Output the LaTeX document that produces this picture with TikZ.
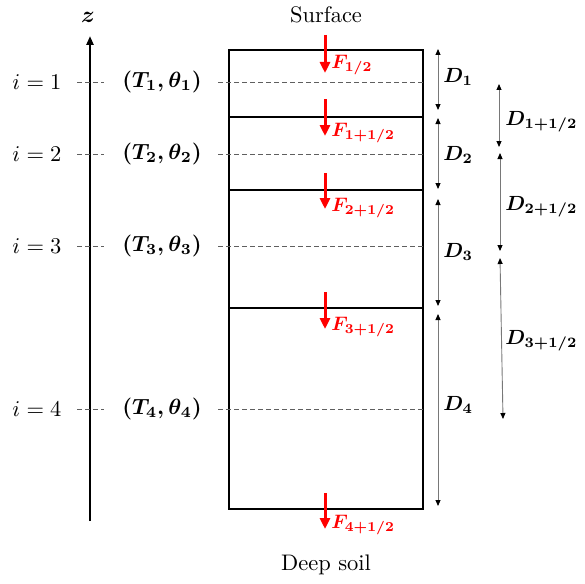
\documentclass[tikz,border=0pt]{standalone}
\usepackage{amsmath}
\usetikzlibrary{arrows.meta}
\definecolor{fred}{RGB}{255,0,0}
\definecolor{guidegray}{RGB}{95,95,95}
\definecolor{dimgray}{RGB}{120,120,120}
\begin{document}
\begin{tikzpicture}[x=1pt,y=-1pt,
  lbl/.style={font=\normalsize, scale=2.25, inner sep=0pt},
  blbl/.style={font=\normalsize\boldmath, scale=2.2, inner sep=0pt},
  flbl/.style={font=\normalsize\boldmath, scale=1.95, text=fred, inner sep=0pt, anchor=west},
  dlbl/.style={font=\normalsize\boldmath, scale=2.05, inner sep=0pt, anchor=west},
  wall/.style={line width=1.5pt},
  guide/.style={dash pattern=on 5pt off 3pt, line width=0.8pt, draw=guidegray},
  flux/.style={draw=fred, line width=3pt, -{Triangle[length=11pt,width=10pt]}},
  dimarr/.style={line width=0.9pt, draw=dimgray, {Triangle[length=6pt,width=5pt,color=black]}-{Triangle[length=6pt,width=5pt,color=black]}}
]
\useasboundingbox (0,0) rectangle (585,583);
% soil column
\coordinate (tl) at (229,50);
\coordinate (br) at (423,509);
\draw[wall] (tl) rectangle (br);
\foreach \y/\n in {117/a,190/b,308/c}{
  \coordinate (\n L) at (229,\y);
  \coordinate (\n R) at (423,\y);
  \draw[wall] (\n L) -- (\n R);
}
% z axis
\coordinate (z0) at (90,521);
\coordinate (z1) at (90,36);
\draw[line width=2.4pt, -{Triangle[length=9pt,width=7pt]}] (z0) -- (z1);
\node[font=\normalsize\boldmath, scale=2.3, inner sep=0pt] (zl) at (88,17) {$z$};
% nodes
\foreach \k/\y in {1/82,2/154,3/246,4/409}{
  \node[lbl] (i\k) at (37,\y) {$i=\k$};
  \node[blbl] (t\k) at (162,\y) {$(T_{\k},\theta_{\k})$};
  \coordinate (l\k a) at (77,\y);
  \coordinate (l\k b) at (104,\y);
  \coordinate (r\k a) at (218,\y);
  \coordinate (r\k b) at (423,\y);
  \draw[guide] (l\k a) -- (l\k b);
  \draw[guide] (r\k a) -- (r\k b);
}
\node[lbl] (surf) at (326,15) {Surface};
\node[lbl] (deep) at (326,565) {Deep soil};
% fluxes
\foreach \n/\ya/\yb/\yl/\t in {f0/35/73/65/{1/2},f1/99/136/133/{1+1/2},f2/173/209/208/{2+1/2},f3/292/329/327/{3+1/2},f4/493/529/525/{4+1/2}}{
  \coordinate (\n a) at (325,\ya);
  \coordinate (\n b) at (325,\yb);
  \draw[flux] (\n a) -- (\n b);
  \node[flbl] (\n l) at (331,\yl) {$F_{\t}$};
}
% layer thicknesses
\foreach \n/\ya/\yb/\yl in {1/49/110/77,2/118/189/155,3/199/306/252,4/314/506/405}{
  \coordinate (d\n a) at (438,\ya);
  \coordinate (d\n b) at (438,\yb);
  \draw[dimarr] (d\n a) -- (d\n b);
  \node[dlbl] (d\n l) at (443,\yl) {$D_{\n}$};
}
% inter-node distances
\coordinate (e1a) at (499,84);
\coordinate (e1b) at (499,147);
\coordinate (e2a) at (500,153);
\coordinate (e2b) at (500,251);
\coordinate (e3a) at (500,258);
\coordinate (e3b) at (503,419);
\draw[dimarr] (e1a) -- (e1b);
\draw[dimarr] (e2a) -- (e2b);
\draw[dimarr] (e3a) -- (e3b);
\node[dlbl] (e1l) at (505,122) {$D_{1+1/2}$};
\node[dlbl] (e2l) at (505,207) {$D_{2+1/2}$};
\node[dlbl] (e3l) at (505,341) {$D_{3+1/2}$};
\end{tikzpicture}
\end{document}
